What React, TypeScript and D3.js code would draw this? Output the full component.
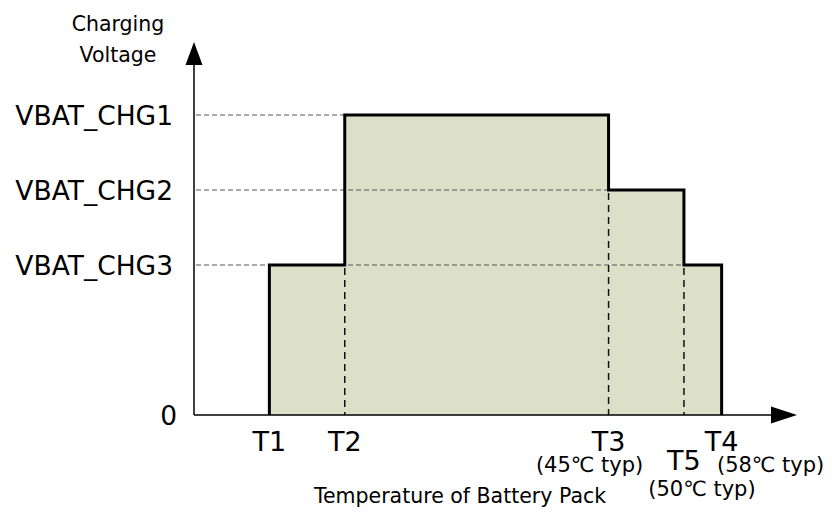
import React from 'react'
import * as d3 from 'd3'

// x positions of the temperature thresholds (arbitrary units along the axis)
const tempNames = ['T1', 'T2', 'T3', 'T5', 'T4']
const tempPos = [10, 20, 55, 65, 70]
const tempNotes = ['', '', '(45℃ typ)', '(50℃ typ)', '(58℃ typ)']

// charging level for each interval between thresholds
const stepLevels = [2, 4, 3, 2]

const levelNames = ['0', 'VBAT_CHG3', 'VBAT_CHG2', 'VBAT_CHG1']
const levelValues = [0, 2, 3, 4]

const App = () => {
  const width = 832, height = 512
  const x = d3.scaleLinear().domain([0, 80]).range([194, 797])
  const y = d3.scaleLinear().domain([0, 5]).range([415, 40])

  // outline points: rise at T1, steps, fall at T4
  const pts: [number, number][] = [[tempPos[0], 0]]
  stepLevels.forEach((v, i) => pts.push([tempPos[i], v]))
  pts.push([tempPos[tempPos.length - 1], stepLevels[stepLevels.length - 1]])
  pts.push([tempPos[tempPos.length - 1], 0])

  const line = d3.line<[number, number]>()
    .x(d => x(d[0]))
    .y(d => y(d[1]))
    .curve(d3.curveStepAfter)

  const area = d3.area<[number, number]>()
    .x(d => x(d[0]))
    .y0(y(0))
    .y1(d => y(d[1]))
    .curve(d3.curveStepAfter)

  // horizontal guides end where the last interval at that level starts
  const guides = levelValues.filter(v => v > 0).map(v => {
    let idx = -1
    stepLevels.forEach((s, i) => { if (s === v) idx = i })
    return { v, end: tempPos[idx] }
  })

  // vertical guides at inner thresholds, up to the lower adjacent level
  const vguides = tempPos.slice(1, -1).map((t, i) => ({
    t, top: Math.min(stepLevels[i], stepLevels[i + 1])
  }))

  const font = "'DejaVu Sans', sans-serif"
  const x0 = x(0), y0 = y(0)
  const xEnd = x(80), yEnd = y(5)

  return (
    <svg width={width} height={height} style={{ position: 'absolute', left: 0, top: 0 }}
      fontFamily={font}>
      <rect width={width} height={height} fill="#fff" />
      <path d={area(pts) || ''} fill="#dce0c9" stroke="none" />

      {guides.map(g => (
        <line key={g.v} x1={x0 + 2} x2={x(g.end)} y1={y(g.v)} y2={y(g.v)}
          stroke="#555" strokeWidth={1} strokeDasharray="5,3" />
      ))}
      {vguides.map(g => (
        <line key={g.t} x1={x(g.t)} x2={x(g.t)} y1={y(g.top) + 3} y2={y0}
          stroke="#111" strokeWidth={1.5} strokeDasharray="7,5" />
      ))}

      <path d={line(pts) || ''} fill="none" stroke="#000" strokeWidth={3} />

      {/* axes */}
      <line x1={x0} x2={xEnd - 24} y1={y0} y2={y0} stroke="#000" strokeWidth={1.5} />
      <line x1={x0} x2={x0} y1={y0} y2={yEnd + 22} stroke="#000" strokeWidth={1.5} />
      <path d={`M${xEnd},${y0} L${xEnd - 26},${y0 - 8.5} L${xEnd - 26},${y0 + 8.5} Z`} fill="#000" />
      <path d={`M${x0},${yEnd + 2} L${x0 - 8.5},${yEnd + 25} L${x0 + 8.5},${yEnd + 25} Z`} fill="#000" />

      {levelNames.map((n, i) => (
        <text key={n} x={n === '0' ? 177 : 173} y={y(levelValues[i])} dy="0.36em" textAnchor="end" fontSize={26.5}>{n}</text>
      ))}

      {tempNames.map((n, i) => {
        const lower = n === 'T5'
        return (
          <g key={n}>
            <text x={x(tempPos[i])} y={lower ? 470 : 451} textAnchor="middle" fontSize={27}>{n}</text>
            {tempNotes[i] && (
              <text x={x(tempPos[i]) + (n === 'T3' ? -19 : n === 'T4' ? 49 : 18)} y={lower ? 496 : 472}
                textAnchor="middle" fontSize={21}>{tempNotes[i]}</text>
            )}
          </g>
        )
      })}

      <text x={460} y={503} textAnchor="middle" fontSize={20.5}>Temperature of Battery Pack</text>
      <text x={118} y={31} textAnchor="middle" fontSize={20.5}>Charging</text>
      <text x={118} y={62} textAnchor="middle" fontSize={20.5}>Voltage</text>
    </svg>
  )
}

export default App
